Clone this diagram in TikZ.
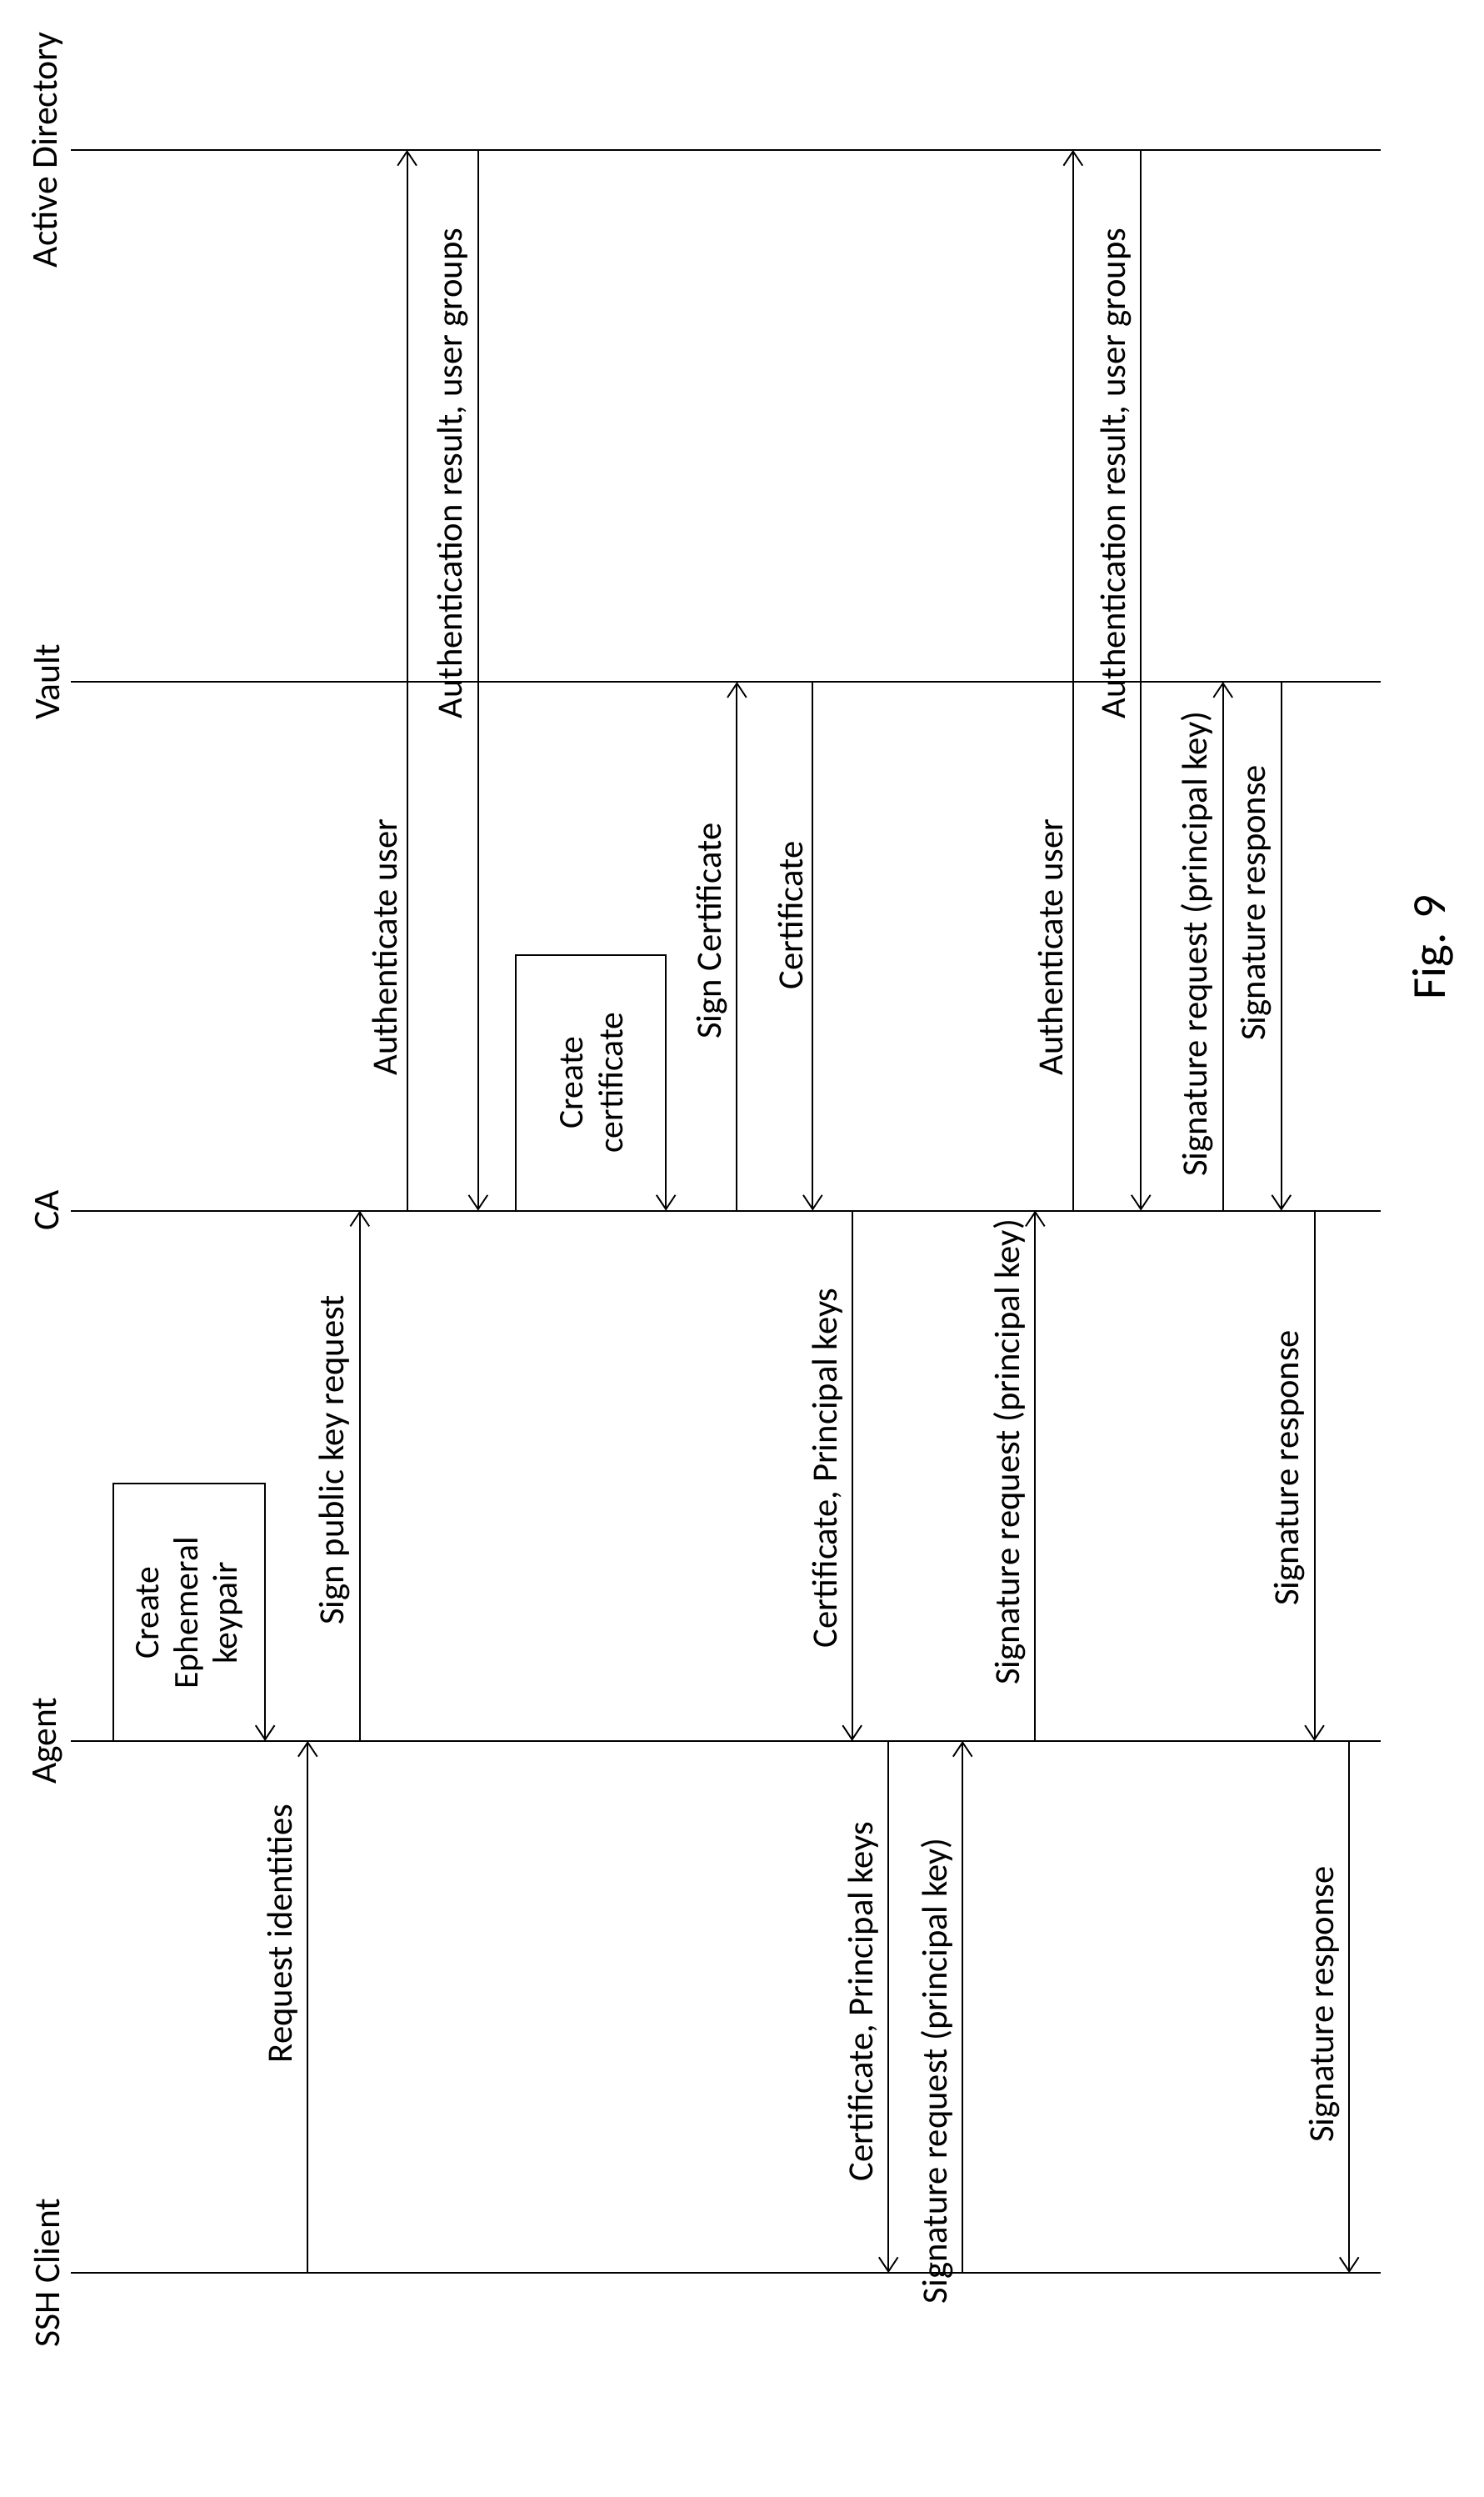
\documentclass[tikz,border=0pt]{standalone}
\usepackage{fontspec}
\setmainfont{Carlito}
\usetikzlibrary{arrows.meta}

\tikzset{
  msg/.style={line width=1pt, -{Straight Barb[length=9pt,width=12pt]}},
  life/.style={line width=1pt},
  lbl/.style={rotate=90, anchor=south, inner sep=2pt, font=\fontsize{22.5}{26}\selectfont},
  head/.style={rotate=90, font=\fontsize{23}{27}\selectfont},
  boxtxt/.style={rotate=90, align=center, font=\fontsize{22}{25}\selectfont},
}

\begin{document}
\begin{tikzpicture}[x=1pt, y=-1pt]
    \useasboundingbox (0,0) rectangle (940,1582);
    % lifelines
    \foreach \n/\y/\t in {ad/95/Active Directory, vault/432/Vault, ca/767/CA, agent/1103/Agent, ssh/1440/SSH Client}{
        \coordinate (\n) at (45,\y);
        \coordinate (\n end) at (875,\y);
        \draw[life] (\n) -- (\n end);
        \node[head] (\n label) at (30,\y) {\t};
    }

    % local steps
    \coordinate (eph top) at (72,940);
    \coordinate (eph corner) at (168,940);
    \draw[msg] (72,0 |- agent) -- (eph top) -- (eph corner) -- (168,0 |- agent);
    \node[boxtxt] (eph) at (120,1022) {Create\\Ephemeral\\keypair};
    \coordinate (cert top) at (327,605);
    \coordinate (cert corner) at (422,605);
    \draw[msg] (327,0 |- ca) -- (cert top) -- (cert corner) -- (422,0 |- ca);
    \node[boxtxt] (certbox) at (375,686) {Create\\certificate};

    % messages
    \foreach \x/\from/\to/\ly/\txt in {
        195/ssh/agent/1225/{Request identities},
        228/agent/ca/925/{Sign public key request},
        258/ca/ad/600/{Authenticate user},
        303/ad/ca/300/{Authentication result, user groups},
        467/ca/vault/590/{Sign Certificate},
        515/vault/ca/580/{Certificate},
        540/ca/agent/930/{Certificate, Principal keys},
        563/agent/ssh/1268/{Certificate, Principal keys},
        610/ssh/agent/1312/{Signature request (principal key)},
        656/agent/ca/920/{Signature request (principal key)},
        680/ca/ad/600/{Authenticate user},
        723/ad/ca/300/{Authentication result, user groups},
        775/ca/vault/598/{Signature request (principal key)},
        812/vault/ca/572/{Signature response},
        833/ca/agent/930/{Signature response},
        855/agent/ssh/1270/{Signature response}}{
        \draw[msg] (\x,0 |- \from) -- (\x,0 |- \to);
        \node[lbl] at (\x-4,\ly) {\txt};
    }

    \node[rotate=90, font=\fontsize{30}{34}\selectfont] (fig) at (908,600) {Fig. 9};
\end{tikzpicture}
\end{document}
